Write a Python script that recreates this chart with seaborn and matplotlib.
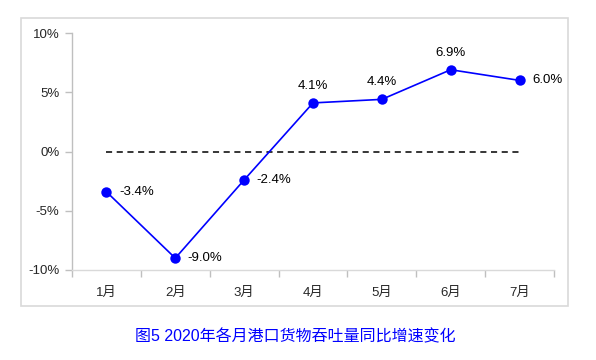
import pandas as pd
import seaborn as sns
import matplotlib.pyplot as plt
from matplotlib.patches import Rectangle
from matplotlib.ticker import FixedLocator

months = ["1月", "2月", "3月", "4月", "5月", "6月", "7月"]
growth = [-3.4, -9.0, -2.4, 4.1, 4.4, 6.9, 6.0]
label_pos = ["right", "right", "right", "above", "above", "above", "right"]
yticks = [-10, -5, 0, 5, 10]
title = "图5 2020年各月港口货物吞吐量同比增速变化"

sns.set_theme(style="white")
plt.rcParams['font.family'] = ['Liberation Sans', 'Noto Sans CJK SC', 'DejaVu Sans']

df = pd.DataFrame({"月份": months, "增速": growth})

fig = plt.figure(figsize=(5.96, 3.6), dpi=100)
ax = fig.add_axes([72 / 596, 1 - 270 / 360, (554 - 72) / 596, (270 - 33) / 360])

# outer frame
fig.patches.append(Rectangle((21 / 596, 1 - 306 / 360), (568 - 21) / 596, (306 - 18) / 360,
                             transform=fig.transFigure, fill=False,
                             edgecolor="#d9d9d9", linewidth=1.2))

x = list(range(len(months)))
ax.plot([x[0], x[-1]], [0, 0], color="black", linestyle=(0, (4, 3)), linewidth=1.1)
sns.lineplot(data=df, x="月份", y="增速", ax=ax, color="#0000ff", linewidth=1.2,
             marker="o", markersize=7.5, markeredgewidth=0, sort=False)

for xi, v, pos in zip(x, growth, label_pos):
    txt = f"{v:.1f}%"
    if pos == "right":
        ax.annotate(txt, (xi, v), xytext=(9, 0), textcoords="offset points",
                    ha="left", va="center", fontsize=9.5, color="black")
    else:
        ax.annotate(txt, (xi, v), xytext=(0, 8), textcoords="offset points",
                    ha="center", va="bottom", fontsize=9.5, color="black")

ax.set_xlim(-0.5, len(months) - 0.5)
ax.set_ylim(-10, 10)
ax.set_yticks(yticks)
ax.set_yticklabels([f"{t}%" for t in yticks], fontsize=9.5)
ax.set_xticks(x)
ax.set_xticklabels(months, fontsize=9.5)
ax.xaxis.set_minor_locator(FixedLocator([i - 0.5 for i in range(len(months) + 1)]))
ax.tick_params(axis="x", which="major", length=0, pad=12)
ax.tick_params(axis="x", which="minor", length=5, color="#bfbfbf", width=1, bottom=True)
ax.tick_params(axis="y", length=5, color="#bfbfbf", width=1, left=True, pad=4)
ax.set_xlabel("")
ax.set_ylabel("")
for s in ["top", "right"]:
    ax.spines[s].set_visible(False)
ax.spines["left"].set_color("#bfbfbf")
ax.spines["bottom"].set_color("#d9d9d9")
ax.spines["left"].set_linewidth(1)
ax.spines["bottom"].set_linewidth(1)
ax.set_facecolor("none")

fig.text(295 / 596, 1 - 337 / 360, title, ha="center", va="center",
         fontsize=11.5, color="#0000ff")

fig.savefig("out.png", dpi=100)
